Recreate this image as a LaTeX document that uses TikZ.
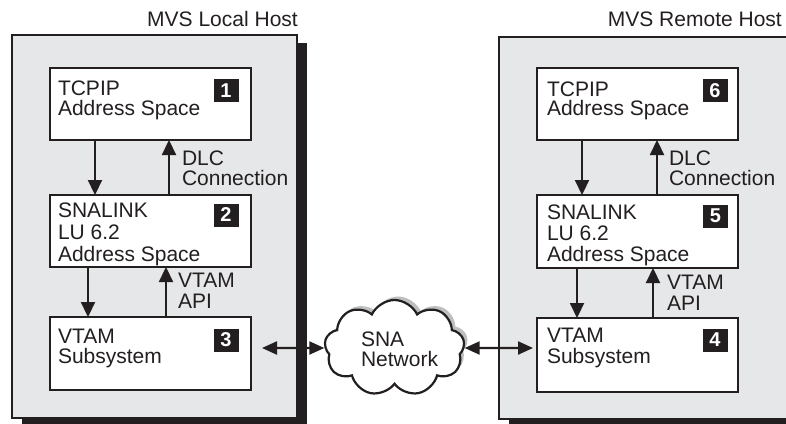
\documentclass[tikz,border=0pt]{standalone}
\usepackage{fontspec}
\setmainfont{Liberation Sans}
\usetikzlibrary{arrows.meta,shapes.symbols,shadows}
\definecolor{ink}{HTML}{231F20}
\definecolor{hostgray}{HTML}{E6E7E8}
\definecolor{cloudshadow}{HTML}{BDBEC0}
\tikzset{
  hostframe/.style={draw=ink, line width=2.2pt, fill=hostgray, anchor=north west, inner sep=0pt, outer sep=0pt},
  inbox/.style={draw=ink, line width=2.6pt, fill=white, anchor=north west, minimum width=201pt, minimum height=72pt, inner sep=0pt, outer sep=0pt},
  boxtext/.style={anchor=north west, inner sep=0pt, outer sep=0pt, align=left, text=ink},
  badge/.style={fill=ink, text=white, font=\fontsize{20}{20}\selectfont\bfseries, minimum width=25pt, minimum height=23pt, inner sep=0pt},
  arr/.style={draw=ink, line width=2.2pt, -{Triangle[length=15pt,width=14pt]}},
  dblarr/.style={draw=ink, line width=2.2pt, {Triangle[length=15pt,width=13pt]}-{Triangle[length=15pt,width=13pt]}},
  titletext/.style={anchor=base east, inner sep=0pt, text=ink, font=\fontsize{21}{21}\selectfont},
}
\newcommand{\fs}[1]{\fontsize{21}{#1}\selectfont}
\begin{document}
\begin{tikzpicture}[x=1pt,y=-1pt]
\useasboundingbox (0,0) rectangle (786,423);
\clip (0,0) rectangle (786,423);
% host frames with shadows
\fill[ink] (22,43) rectangle (307,430);
\node[hostframe, minimum width=285pt, minimum height=383pt] (hostL) at (12,35) {};
\fill[ink] (509,45) rectangle (810,430);
\node[hostframe, minimum width=300pt, minimum height=382pt] (hostR) at (499,37) {};
\node[titletext] (titleL) at (298,27) {MVS Local Host};
\node[titletext] (titleR) at (782,27) {MVS Remote Host};
% left inner boxes
\node[inbox] (tcpL) at (50,68) {};
\node[inbox] (snaL) at (50,195) {};
\node[inbox, minimum height=73pt] (vtL) at (50,317) {};
\node[boxtext, font=\fs{19.5}] (tcpLt) at (58,81) {TCPIP\\Address Space};
\node[boxtext, font=\fs{22}] (snaLt) at (58,203) {SNALINK\\LU 6.2\\Address Space};
\node[boxtext, font=\fs{20.5}] (vtLt) at (58,329) {VTAM\\Subsystem};
\node[badge] (b1) at (226,90.5) {1};
\node[badge] (b2) at (226,215) {2};
\node[badge] (b3) at (226,340) {3};
% right inner boxes
\node[inbox] (tcpR) at (537,68) {};
\node[inbox, minimum height=73pt] (snaR) at (537,195) {};
\node[inbox, minimum height=74pt] (vtR) at (537,318) {};
\node[boxtext, font=\fs{19}] (tcpRt) at (547,82) {TCPIP\\Address Space};
\node[boxtext, font=\fs{21}] (snaRt) at (547,205) {SNALINK\\LU 6.2\\Address Space};
\node[boxtext, font=\fs{21.5}] (vtRt) at (547,328) {VTAM\\Subsystem};
\node[badge] (b6) at (715,90.5) {6};
\node[badge] (b5) at (715.5,216) {5};
\node[badge] (b4) at (715,340) {4};
% vertical arrows left
\draw[arr] ([xshift=45pt]tcpL.south west) -- ([xshift=45pt]tcpL.south west |- snaL.north);
\draw[arr] ([xshift=119pt]snaL.north west) -- ([xshift=119pt]snaL.north west |- tcpL.south);
\draw[arr] ([xshift=38pt]snaL.south west) -- ([xshift=38pt]snaL.south west |- vtL.north);
\draw[arr] ([xshift=116pt]vtL.north west) -- ([xshift=116pt]vtL.north west |- snaL.south);
\node[boxtext, font=\fs{19.5}] (dlcL) at (182,151) {DLC\\Connection};
\node[boxtext, font=\fs{21}] (apiL) at (178,273) {VTAM\\API};
% vertical arrows right
\draw[arr] ([xshift=45pt]tcpR.south west) -- ([xshift=45pt]tcpR.south west |- snaR.north);
\draw[arr] ([xshift=120pt]snaR.north west) -- ([xshift=120pt]snaR.north west |- tcpR.south);
\draw[arr] ([xshift=40pt]snaR.south west) -- ([xshift=40pt]snaR.south west |- vtR.north);
\draw[arr] ([xshift=116pt]vtR.north west) -- ([xshift=116pt]vtR.north west |- snaR.south);
\node[boxtext, font=\fs{19.5}] (dlcR) at (669,151) {DLC\\Connection};
\node[boxtext, font=\fs{21.5}] (apiR) at (667,275) {VTAM\\API};
% cloud
\node[cloud, cloud puffs=9, cloud puff arc=130, aspect=1.45, draw=ink, line width=2.2pt, fill=white,
      minimum width=140pt, minimum height=96pt, inner sep=0pt,
      copy shadow={shadow xshift=3.5pt, shadow yshift=3.5pt, fill=cloudshadow, draw=none}] (net) at (394.5,348) {};
\node[boxtext, font=\fs{20}] (nett) at (361,332) {SNA\\Network};
% horizontal double arrows
\coordinate (lend) at (262,348);
\coordinate (rend) at (533,348);
\draw[dblarr] (lend) -- (net.west);
\draw[dblarr] (net.east) -- (rend);
\end{tikzpicture}
\end{document}
